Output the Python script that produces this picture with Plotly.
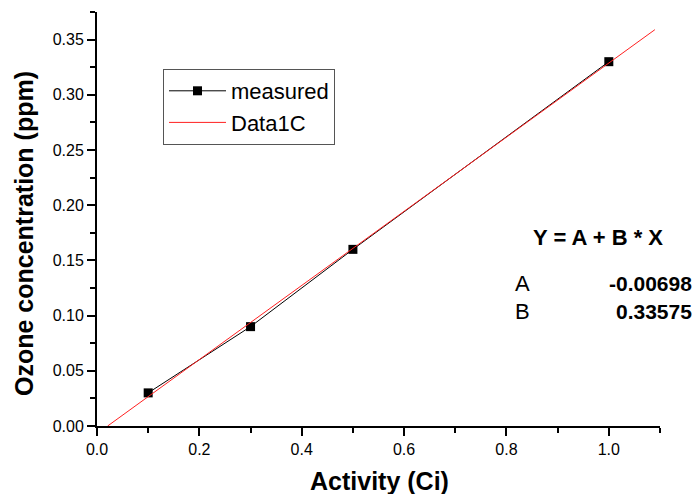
import plotly.graph_objects as go

activity = [0.1, 0.3, 0.5, 1.0]
ozone = [0.03, 0.09, 0.16, 0.33]
A = -0.00698
B = 0.33575
A_text = "-0.00698"
B_text = "0.33575"
fit_x = [-A / B, 1.09]
fit_y = [A + B * x for x in fit_x]

FONT = "Liberation Sans, Arial, sans-serif"
W, H = 697, 494
L, T = 97, 12
R = W - 660
Bm = H - 426
PW, PH = W - L - R, H - T - Bm


def px(x):
    return (x - L) / PW


def py(y):
    return (H - Bm - y) / PH


fig = go.Figure()
fig.add_trace(go.Scatter(x=activity, y=ozone, mode="lines+markers", name="measured",
                         line=dict(color="black", width=1),
                         marker=dict(symbol="square", size=9, color="black")))
fig.add_trace(go.Scatter(x=fit_x, y=fit_y, mode="lines", name="Data1C",
                         line=dict(color="#ff2020", width=1)))

fig.update_layout(
    width=W, height=H,
    margin=dict(l=L, r=R, t=T, b=Bm),
    paper_bgcolor="white", plot_bgcolor="white",
    font=dict(family=FONT, color="black", size=16),
    showlegend=True,
    legend=dict(x=px(163), y=py(69), xanchor="left", yanchor="top",
                bordercolor="#555555", borderwidth=1, bgcolor="white",
                font=dict(size=22, family=FONT), tracegroupgap=0, itemwidth=57),
    xaxis=dict(range=[0, 1.1], tickvals=[0, 0.2, 0.4, 0.6, 0.8, 1.0],
               ticktext=["0.0", "0.2", "0.4", "0.6", "0.8", "1.0"], automargin=False,
               showgrid=False, zeroline=False, showline=True, linecolor="black", linewidth=2,
               ticks="outside", ticklen=8, tickwidth=1.5, tickcolor="black",
               minor=dict(dtick=0.1, tick0=0, ticks="outside", ticklen=5, tickwidth=1.5, tickcolor="black"),
               tickfont=dict(size=16)),
    yaxis=dict(range=[0, 0.375], tickvals=[0, 0.05, 0.1, 0.15, 0.2, 0.25, 0.3, 0.35],
               ticktext=["0.00", "0.05", "0.10", "0.15", "0.20", "0.25", "0.30", "0.35"], automargin=False,
               showgrid=False, zeroline=False, showline=True, linecolor="black", linewidth=2,
               ticks="outside", ticklen=8, tickwidth=1.5, tickcolor="black",
               minor=dict(dtick=0.025, tick0=0, ticks="outside", ticklen=5, tickwidth=1.5, tickcolor="black"),
               tickfont=dict(size=16)),
)

# axis titles
fig.add_annotation(xref="paper", yref="paper", x=px(379), y=py(481),
                   text="<b>Activity (Ci)</b>", showarrow=False, xanchor="center", yanchor="middle",
                   font=dict(size=25, family=FONT))
fig.add_annotation(xref="paper", yref="paper", x=px(24), y=py(234), textangle=-90,
                   text="<b>Ozone concentration (ppm)</b>", showarrow=False, xanchor="center", yanchor="middle",
                   font=dict(size=25, family=FONT))

# fit equation
fig.add_annotation(xref="paper", yref="paper", x=px(598), y=py(237),
                   text="<b>Y = A + B * X</b>", showarrow=False, xanchor="center", yanchor="middle",
                   font=dict(size=22, family=FONT))
fig.add_annotation(xref="paper", yref="paper", x=px(513), y=py(283),
                   text="A", showarrow=False, xanchor="left", yanchor="middle",
                   font=dict(size=22, family=FONT))
fig.add_annotation(xref="paper", yref="paper", x=px(513), y=py(311),
                   text="B", showarrow=False, xanchor="left", yanchor="middle",
                   font=dict(size=22, family=FONT))
fig.add_annotation(xref="paper", yref="paper", x=px(694), y=py(283),
                   text=f"<b>{A_text}</b>", showarrow=False, xanchor="right", yanchor="middle",
                   font=dict(size=21, family=FONT))
fig.add_annotation(xref="paper", yref="paper", x=px(694), y=py(311),
                   text=f"<b>{B_text}</b>", showarrow=False, xanchor="right", yanchor="middle",
                   font=dict(size=21, family=FONT))

fig.write_html("out.html", config={"displayModeBar": False},
               post_script="document.body.style.margin='0';document.body.style.overflow='hidden';")
